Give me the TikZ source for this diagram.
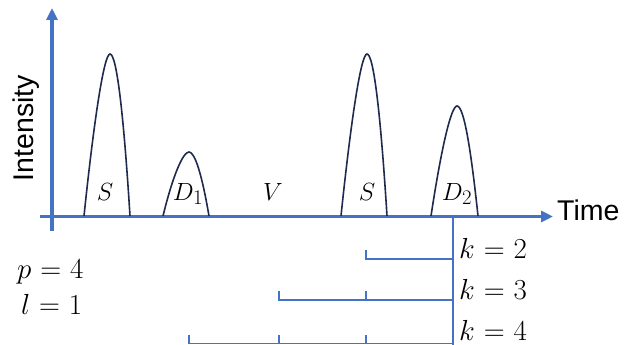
\documentclass[tikz,border=0pt]{standalone}
\usepackage{fontspec}
\setmainfont{Liberation Sans}
\usepackage{graphicx}
\usetikzlibrary{arrows.meta}
\definecolor{axisblue}{RGB}{68,114,196}
\definecolor{peaknavy}{RGB}{30,42,78}
\thickmuskip=5.5mu plus 2mu
\newcommand{\eqtext}[1]{\scalebox{1.166}{$#1$}}
\begin{document}
\begin{tikzpicture}[x=1pt,y=-1pt,
  axisline/.style={draw=axisblue,line width=3.3pt},
  bracketline/.style={draw=axisblue,line width=1.8pt},
  peakline/.style={draw=peaknavy,line width=1.6pt},
  lbl/.style={inner sep=0pt,font=\fontsize{24.88}{30}\selectfont},
  eqlbl/.style={inner sep=0pt,font=\fontsize{24.88}{30}\selectfont},
  txt/.style={inner sep=0pt,font=\fontsize{28.5}{34}\selectfont}]
\useasboundingbox (0,0) rectangle (632,345);
% axes
\coordinate (yb) at (52,231);
\coordinate (yt) at (52,8);
\coordinate (xl) at (40,216.5);
\coordinate (xr) at (553,216.5);
\draw[axisline,-{Triangle[length=12pt,width=11pt]}] (yb) -- (yt);
\draw[axisline,-{Triangle[length=12pt,width=11pt]}] (xl) -- (xr);
\node[txt,anchor=base west] (time) at (557,220.5) {Time};
\node[txt,anchor=base,rotate=90] (int) at (34,128) {Intensity};
% peaks
\draw[peakline] (84,216) .. controls (94,120) and (104,54) .. (110,54)
  .. controls (117,54) and (124,120) .. (130,216);
\draw[peakline] (163,216) .. controls (173,175) and (183,152) .. (189,152)
  .. controls (195,152) and (202,175) .. (209,216);
\draw[peakline] (341,216) .. controls (351,120) and (361,54) .. (367,54)
  .. controls (374,54) and (381,120) .. (387,216);
\draw[peakline] (431,216) .. controls (441,150) and (451,106) .. (457,106)
  .. controls (464,106) and (471,150) .. (478,216);
% peak labels
\node[lbl,anchor=base] (s1) at (105,200) {$S$};
\node[lbl,anchor=base] (d1) at (188,200) {$D_1$};
\node[lbl,anchor=base] (v) at (273,200) {$V$};
\node[lbl,anchor=base] (s2) at (367,200) {$S$};
\node[lbl,anchor=base] (d2) at (457,200) {$D_2$};
% brackets
\coordinate (vt) at (453,216);
\coordinate (vb) at (453,345);
\draw[bracketline] (vt) -- (vb);
\coordinate (k2a) at (366,259);
\coordinate (k2b) at (453,259);
\draw[bracketline] (366,250) -- (k2a) -- (k2b);
\coordinate (k3a) at (279,300);
\coordinate (k3b) at (453,300);
\draw[bracketline] (279,291) -- (k3a) -- (k3b);
\draw[bracketline] (366,291) -- (366,300);
\coordinate (k4a) at (189,343.5);
\coordinate (k4b) at (453,343.5);
\draw[bracketline] (189,335) -- (k4a) -- (k4b);
\draw[bracketline] (279,335) -- (279,343.5);
\draw[bracketline] (366,335) -- (366,343.5);
% labels
\node[eqlbl,anchor=base west] (k2) at (459,258) {\eqtext{k=2}};
\node[eqlbl,anchor=base west] (k3) at (459,299) {\eqtext{k=3}};
\node[eqlbl,anchor=base west] (k4) at (459,340) {\eqtext{k=4}};
\node[eqlbl,anchor=base west] (p) at (17,278) {\eqtext{p=4}};
\node[eqlbl,anchor=base west] (l) at (21,314) {\eqtext{l=1}};
\end{tikzpicture}
\end{document}
